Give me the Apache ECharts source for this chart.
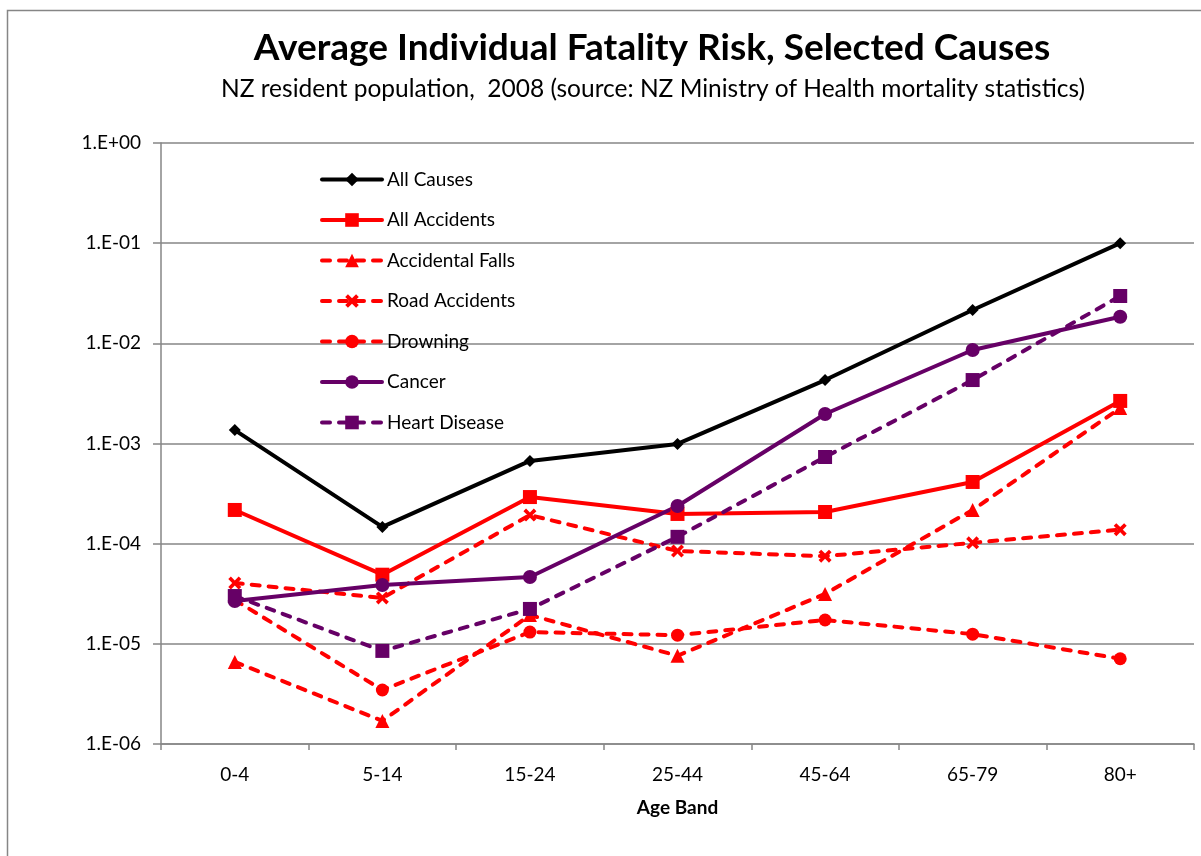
<!DOCTYPE html>
<html>
<head>
<meta charset="utf-8">
<script src="https://cdn.jsdelivr.net/npm/echarts@6/dist/echarts.min.js"></script>
<style>
  html, body { margin: 0; padding: 0; background: #fff; }
  #chart { width: 1201px; height: 856px; }
</style>
</head>
<body>
<div id="chart"></div>
<script>
// age bands on the x axis
var ageBands = ['0-4', '5-14', '15-24', '25-44', '45-64', '65-79', '80+'];

// average individual fatality risk per cause
var allCauses = [1.36e-3, 1.47e-4, 6.7e-4, 9.9e-4, 4.3e-3, 2.15e-2, 1.0e-1];
var allAccidents = [2.17e-4, 4.9e-5, 2.92e-4, 1.98e-4, 2.07e-4, 4.13e-4, 2.66e-3];
var accidentalFalls = [6.6e-6, 1.7e-6, 1.94e-5, 7.6e-6, 3.15e-5, 2.17e-4, 2.26e-3];
var roadAccidents = [4.05e-5, 2.87e-5, 1.93e-4, 8.45e-5, 7.5e-5, 1.02e-4, 1.38e-4];
var drowning = [2.74e-5, 3.46e-6, 1.31e-5, 1.22e-5, 1.73e-5, 1.25e-5, 7.1e-6];
var cancer = [2.68e-5, 3.87e-5, 4.65e-5, 2.38e-4, 1.97e-3, 8.58e-3, 1.84e-2];
var heartDisease = [3.0e-5, 8.5e-6, 2.23e-5, 1.17e-4, 7.33e-4, 4.3e-3, 2.97e-2];

var titleText = 'Average Individual Fatality Risk, Selected Causes';
var subtitleText = 'NZ resident population,  2008 (source: NZ Ministry of Health mortality statistics)';

var RED = '#ff0000';
var PURPLE = '#660066';
var GREY = '#868686';
var FONT = 'Lato';
var DASH = [8, 9];
// a thick "x" marker, like the Excel one
var CROSS = 'path://M2,0 L5,3 L8,0 L10,2 L7,5 L10,8 L8,10 L5,7 L2,10 L0,8 L3,5 L0,2 Z';

function expLabel(v) {
  var e = Math.round(Math.log(v) / Math.LN10);
  var s = Math.abs(e) < 10 ? '0' + Math.abs(e) : '' + Math.abs(e);
  return '1.E' + (e < 0 ? '-' : '+') + s;
}

function makeLine(name, data, color, dashed, symbol, size) {
  return {
    name: name,
    type: 'line',
    data: data,
    symbol: symbol,
    symbolSize: size,
    showSymbol: true,
    animation: false,
    itemStyle: { color: color },
    lineStyle: {
      color: color,
      width: 4,
      type: dashed ? DASH : 'solid',
      cap: 'round'
    },
    emphasis: { disabled: true }
  };
}

var chart = echarts.init(document.getElementById('chart'));

chart.setOption({
  backgroundColor: '#fff',
  textStyle: { fontFamily: FONT },
  graphic: [
    {
      // chart area border (left and top edges visible)
      type: 'rect',
      shape: { x: 7.5, y: 10.5, width: 1400, height: 1000 },
      style: { fill: null, stroke: GREY, lineWidth: 1.5 },
      silent: true
    },
    {
      type: 'text',
      x: 652,
      y: 48,
      style: {
        text: titleText,
        fontFamily: FONT,
        fontWeight: 'bold',
        fontSize: 37,
        fill: '#000',
        textAlign: 'center',
        textVerticalAlign: 'middle'
      }
    },
    {
      type: 'text',
      x: 653,
      y: 89,
      style: {
        text: subtitleText,
        fontFamily: FONT,
        fontSize: 24.5,
        fill: '#000',
        textAlign: 'center',
        textVerticalAlign: 'middle'
      }
    }
  ],
  legend: {
    orient: 'vertical',
    left: 320,
    top: 170,
    padding: 0,
    itemWidth: 60,
    itemHeight: 17,
    itemGap: 21.5,
    selectedMode: false,
    lineStyle: { width: 4 },
    textStyle: { fontFamily: FONT, fontSize: 19, lineHeight: 17, color: '#000' }
  },
  grid: {
    left: 161,
    top: 143,
    width: 1033,
    height: 601,
    containLabel: false
  },
  xAxis: {
    type: 'category',
    data: ageBands,
    boundaryGap: true,
    name: 'Age Band',
    nameLocation: 'middle',
    nameGap: 54,
    nameTextStyle: { fontFamily: FONT, fontWeight: 'bold', fontSize: 19, color: '#000' },
    axisLine: { lineStyle: { color: GREY, width: 1.5 } },
    axisTick: { show: true, alignWithLabel: false, length: 6, lineStyle: { color: GREY, width: 1.5 } },
    axisLabel: { fontFamily: FONT, fontSize: 19, color: '#000', margin: 21 },
    splitLine: { show: false }
  },
  yAxis: {
    type: 'log',
    logBase: 10,
    min: 1e-6,
    max: 1,
    splitNumber: 6,
    axisLine: { show: true, lineStyle: { color: GREY, width: 1.5 } },
    axisTick: { show: true, length: 8, lineStyle: { color: GREY, width: 1.5 } },
    axisLabel: { fontFamily: FONT, fontSize: 19, color: '#000', margin: 20, formatter: expLabel },
    splitLine: { show: true, lineStyle: { color: GREY, width: 1.5 } },
    minorTick: { show: false }
  },
  series: [
    makeLine('All Causes', allCauses, '#000', false, 'diamond', 12),
    makeLine('All Accidents', allAccidents, RED, false, 'rect', 14),
    makeLine('Accidental Falls', accidentalFalls, RED, true, 'triangle', 14),
    makeLine('Road Accidents', roadAccidents, RED, true, CROSS, 13),
    makeLine('Drowning', drowning, RED, true, 'circle', 13),
    makeLine('Cancer', cancer, PURPLE, false, 'circle', 14),
    makeLine('Heart Disease', heartDisease, PURPLE, true, 'rect', 14)
  ]
});
</script>
</body>
</html>
